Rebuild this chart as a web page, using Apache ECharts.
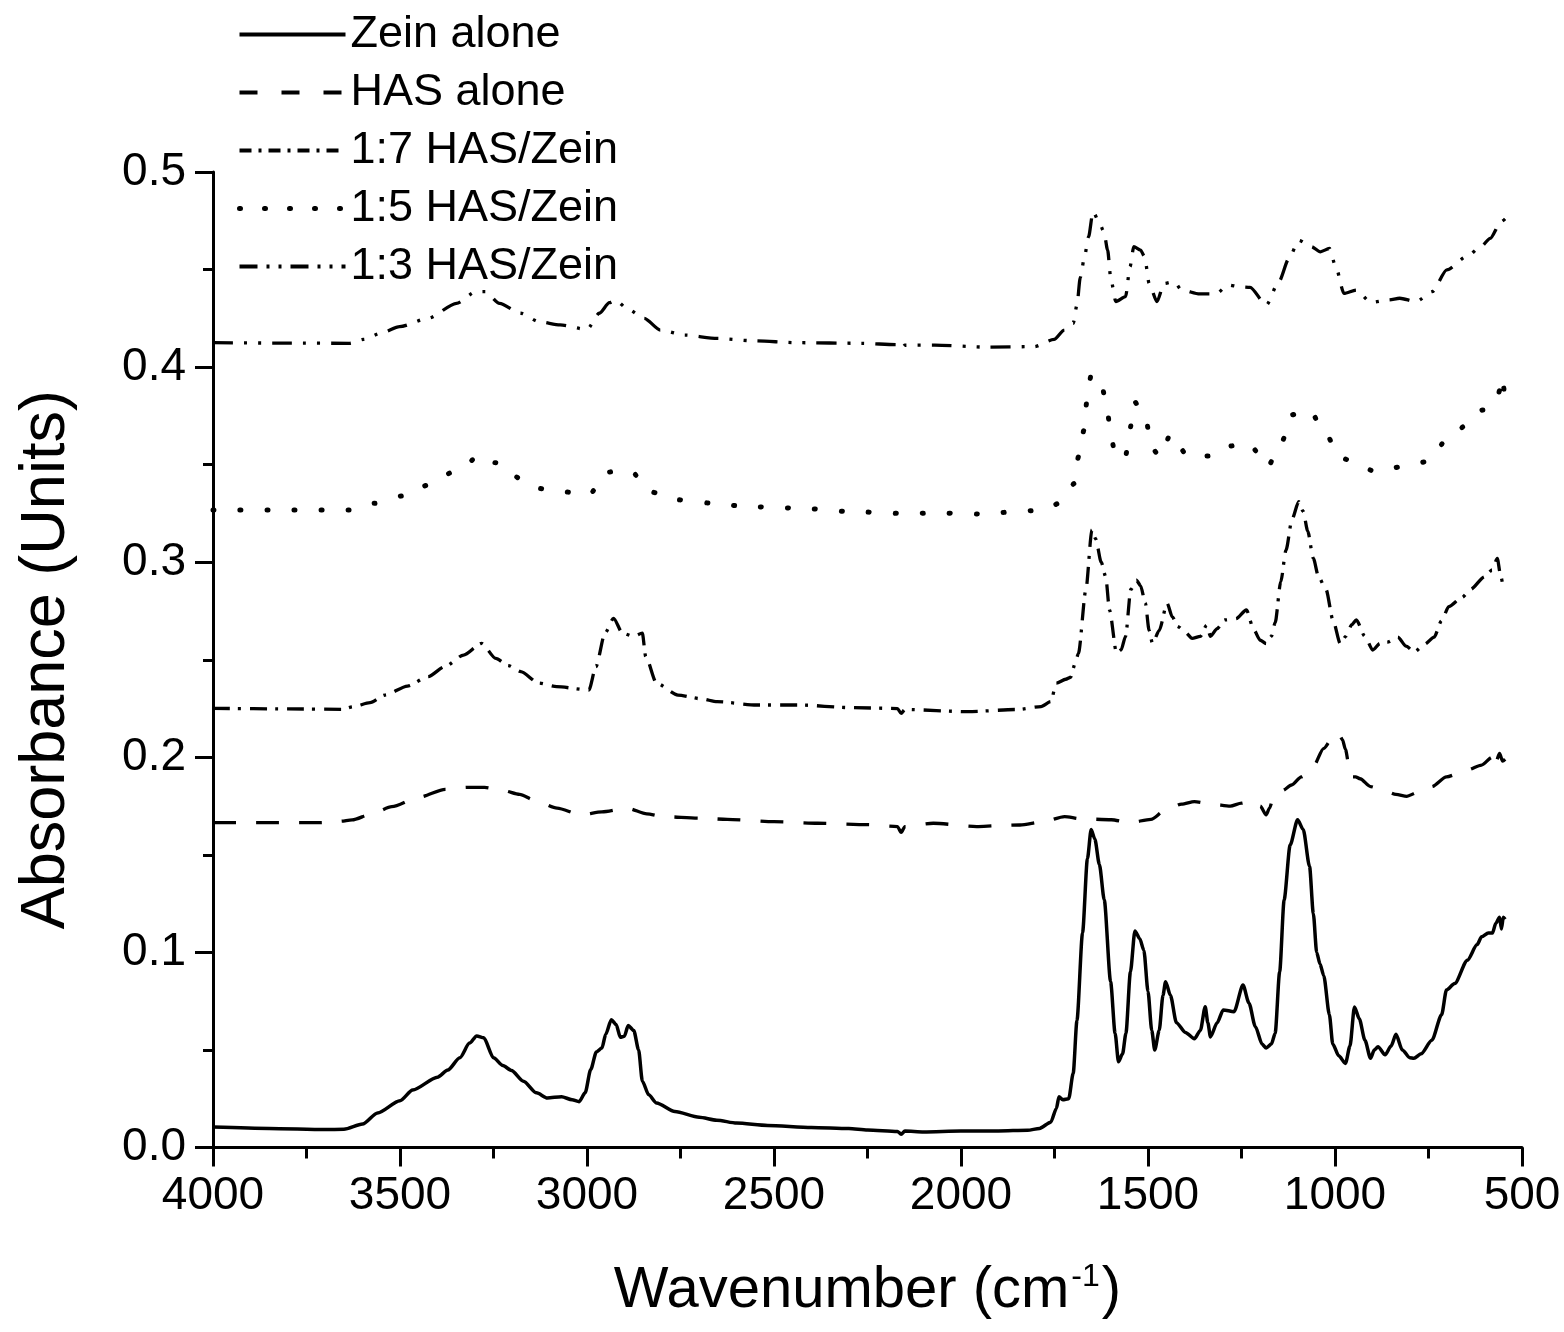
<!DOCTYPE html>
<html>
<head>
<meta charset="utf-8">
<script src="https://cdn.jsdelivr.net/npm/echarts@6/dist/echarts.min.js"></script>
<style>
html,body{margin:0;padding:0;background:#fff;}
#chart{width:1564px;height:1332px;}
</style>
</head>
<body>
<div id="chart"></div>
<script>
// ---- Data: [wavenumber (cm-1), absorbance] ----
const seriesNames = ['Zein alone', 'HAS alone', '1:7 HAS/Zein', '1:5 HAS/Zein', '1:3 HAS/Zein'];
const xTicks = [4000, 3500, 3000, 2500, 2000, 1500, 1000, 500];
const yTicks = [0.0, 0.1, 0.2, 0.3, 0.4, 0.5];

const zeinAlone = [[4000,0.0105],[3850,0.0098],[3700,0.0092],[3650,0.0093],[3600,0.012],[3560,0.0177],[3500,0.024],[3466,0.0295],[3400,0.036],[3372,0.0397],[3340,0.046],[3314,0.0535],[3295,0.0572],[3276,0.0562],[3250,0.046],[3225,0.042],[3202,0.0395],[3170,0.034],[3135,0.028],[3106,0.0254],[3068,0.026],[3040,0.0245],[3021,0.0235],[3005,0.028],[2990,0.040],[2975,0.049],[2960,0.051],[2950,0.058],[2935,0.0655],[2922,0.063],[2911,0.0565],[2900,0.057],[2890,0.0625],[2875,0.060],[2862,0.050],[2852,0.034],[2835,0.027],[2814,0.0228],[2765,0.0184],[2700,0.0155],[2653,0.014],[2600,0.0125],[2517,0.0113],[2400,0.0103],[2300,0.0097],[2250,0.009],[2170,0.0082],[2160,0.0068],[2150,0.0085],[2100,0.008],[2000,0.0085],[1900,0.0085],[1822,0.0088],[1790,0.0098],[1760,0.013],[1745,0.020],[1738,0.026],[1728,0.0245],[1712,0.025],[1700,0.038],[1690,0.065],[1675,0.11],[1662,0.148],[1652,0.163],[1642,0.158],[1630,0.145],[1617,0.127],[1600,0.085],[1588,0.0586],[1579,0.044],[1568,0.048],[1559,0.0586],[1547,0.09],[1535,0.111],[1522,0.107],[1511,0.101],[1500,0.08],[1490,0.06],[1482,0.05],[1470,0.06],[1460,0.078],[1453,0.085],[1440,0.078],[1424,0.064],[1400,0.059],[1376,0.0557],[1360,0.06],[1347,0.0722],[1340,0.064],[1333,0.0567],[1315,0.064],[1299,0.0705],[1270,0.0696],[1246,0.0833],[1230,0.074],[1213,0.062],[1195,0.053],[1184,0.051],[1170,0.053],[1160,0.0586],[1148,0.09],[1136,0.127],[1120,0.155],[1100,0.168],[1085,0.163],[1068,0.144],[1058,0.12],[1049,0.1],[1040,0.094],[1030,0.088],[1015,0.068],[1006,0.053],[990,0.047],[972,0.0431],[960,0.052],[948,0.072],[935,0.066],[920,0.055],[905,0.0457],[895,0.05],[885,0.0517],[866,0.0475],[850,0.052],[837,0.058],[820,0.05],[800,0.046],[789,0.0457],[770,0.048],[741,0.055],[715,0.068],[702,0.0807],[680,0.084],[646,0.096],[620,0.104],[608,0.108],[590,0.11],[579,0.1099],[570,0.115],[560,0.118],[555,0.112],[550,0.118],[545,0.117]];

const hasAlone = [[4000,0.1665],[3850,0.1665],[3713,0.1665],[3660,0.1672],[3628,0.1679],[3575,0.171],[3522,0.1747],[3450,0.1795],[3379,0.1836],[3320,0.1846],[3274,0.1846],[3226,0.183],[3180,0.181],[3140,0.178],[3080,0.174],[3016,0.1705],[2960,0.172],[2892,0.1739],[2840,0.171],[2797,0.1696],[2700,0.1688],[2625,0.1682],[2500,0.167],[2383,0.1662],[2250,0.1655],[2170,0.1645],[2160,0.1615],[2150,0.1645],[2074,0.1662],[1958,0.1645],[1900,0.165],[1842,0.1653],[1780,0.167],[1723,0.1696],[1680,0.1685],[1598,0.168],[1550,0.1665],[1492,0.1682],[1453,0.173],[1410,0.176],[1376,0.1773],[1330,0.176],[1280,0.175],[1250,0.1765],[1222,0.178],[1200,0.175],[1184,0.1705],[1175,0.174],[1164,0.180],[1140,0.183],[1116,0.1858],[1090,0.19],[1059,0.195],[1030,0.2046],[1010,0.209],[991,0.2125],[980,0.209],[972,0.204],[962,0.195],[957,0.190],[945,0.19],[933,0.189],[905,0.185],[870,0.183],[837,0.181],[808,0.180],[780,0.182],[741,0.185],[702,0.190],[646,0.1935],[608,0.196],[580,0.2],[575,0.195],[569,0.198],[560,0.202],[552,0.198],[545,0.199]];

const ratio17 = [[4000,0.2251],[3800,0.2248],[3654,0.2246],[3626,0.2259],[3580,0.228],[3540,0.2319],[3480,0.2365],[3425,0.2413],[3380,0.2465],[3330,0.2524],[3282,0.2584],[3244,0.2507],[3210,0.247],[3177,0.2439],[3129,0.238],[3081,0.2362],[2995,0.2345],[2976,0.2465],[2952,0.2636],[2929,0.2712],[2905,0.2636],[2876,0.262],[2852,0.2636],[2843,0.2516],[2814,0.238],[2757,0.2319],[2695,0.23],[2652,0.2285],[2547,0.2268],[2430,0.2268],[2300,0.2255],[2170,0.225],[2160,0.2225],[2150,0.2245],[1982,0.2234],[1850,0.2245],[1786,0.226],[1760,0.2285],[1745,0.238],[1720,0.240],[1707,0.241],[1695,0.248],[1686,0.2533],[1666,0.286],[1650,0.3165],[1640,0.312],[1625,0.300],[1613,0.2925],[1603,0.2755],[1584,0.2533],[1572,0.255],[1560,0.262],[1546,0.286],[1531,0.2908],[1520,0.288],[1507,0.279],[1497,0.265],[1488,0.2583],[1470,0.265],[1449,0.279],[1435,0.272],[1420,0.267],[1400,0.264],[1382,0.261],[1360,0.262],[1343,0.2678],[1333,0.262],[1315,0.266],[1295,0.2704],[1265,0.271],[1237,0.2755],[1217,0.2653],[1200,0.26],[1184,0.2583],[1170,0.262],[1160,0.269],[1145,0.29],[1131,0.3062],[1115,0.322],[1097,0.331],[1085,0.326],[1073,0.316],[1058,0.302],[1044,0.2925],[1024,0.286],[1005,0.27],[986,0.2583],[971,0.262],[955,0.268],[943,0.2704],[920,0.262],[899,0.255],[880,0.2583],[860,0.259],[832,0.2616],[810,0.257],[788,0.254],[760,0.258],[735,0.2616],[715,0.27],[696,0.2772],[660,0.282],[638,0.286],[600,0.2925],[580,0.296],[566,0.302],[558,0.294],[550,0.288],[545,0.29]];

const ratio15 = [[4000,0.3268],[3800,0.3268],[3635,0.3268],[3568,0.3302],[3492,0.334],[3425,0.3395],[3349,0.347],[3282,0.355],[3245,0.351],[3210,0.3456],[3139,0.338],[3067,0.3362],[2995,0.3345],[2970,0.339],[2948,0.346],[2915,0.347],[2881,0.3464],[2833,0.3362],[2761,0.332],[2661,0.3302],[2575,0.3285],[2430,0.3277],[2300,0.326],[2160,0.325],[2050,0.3252],[1955,0.3247],[1813,0.3264],[1760,0.328],[1742,0.33],[1720,0.334],[1697,0.3404],[1686,0.354],[1671,0.3677],[1664,0.3818],[1652,0.396],[1628,0.394],[1610,0.3805],[1601,0.3669],[1586,0.3532],[1560,0.3544],[1548,0.3686],[1536,0.3823],[1520,0.378],[1505,0.3729],[1492,0.3592],[1468,0.354],[1439,0.3657],[1420,0.36],[1393,0.354],[1337,0.3544],[1295,0.3592],[1231,0.3609],[1200,0.355],[1179,0.3489],[1160,0.355],[1142,0.3618],[1116,0.3755],[1090,0.377],[1065,0.378],[1045,0.372],[1026,0.3664],[988,0.3537],[949,0.3515],[891,0.3463],[822,0.3489],[754,0.3515],[701,0.3626],[648,0.3703],[605,0.378],[566,0.3831],[560,0.388],[552,0.395],[545,0.38]];

const ratio13 = [[4000,0.4125],[3800,0.4123],[3635,0.4122],[3597,0.4142],[3550,0.4175],[3501,0.4207],[3425,0.425],[3349,0.4327],[3296,0.4387],[3272,0.4387],[3234,0.4327],[3177,0.4276],[3129,0.4233],[3072,0.4216],[3000,0.4193],[2967,0.4276],[2940,0.433],[2924,0.4344],[2890,0.4296],[2847,0.425],[2804,0.419],[2738,0.4164],[2652,0.4147],[2556,0.4135],[2436,0.4125],[2267,0.4122],[2170,0.4115],[2160,0.4096],[2150,0.4112],[2070,0.4113],[1928,0.4102],[1804,0.4105],[1751,0.4142],[1724,0.419],[1700,0.4224],[1690,0.4318],[1681,0.446],[1669,0.4574],[1659,0.4667],[1647,0.4797],[1630,0.474],[1618,0.4694],[1608,0.46],[1599,0.4446],[1586,0.4336],[1560,0.4361],[1548,0.4515],[1538,0.4617],[1520,0.46],[1509,0.4566],[1497,0.4429],[1476,0.4336],[1457,0.4429],[1430,0.4438],[1410,0.4395],[1362,0.4375],[1319,0.4375],[1285,0.4421],[1256,0.4412],[1227,0.4409],[1184,0.4318],[1150,0.4438],[1123,0.4557],[1097,0.465],[1063,0.4617],[1039,0.4591],[1015,0.4608],[998,0.4515],[976,0.4378],[943,0.4395],[904,0.4331],[856,0.4344],[827,0.4353],[783,0.4336],[740,0.4387],[701,0.4498],[648,0.4566],[610,0.4617],[585,0.466],[556,0.4745],[545,0.476]];

const seriesData = [zeinAlone, hasAlone, ratio17, ratio15, ratio13];

// ---- Styles ----
const FONT = '"Liberation Sans", Arial, Helvetica, sans-serif';
const lineTypes = ['solid', [23, 20], [17, 8, 3, 9], [1, 26], [20, 11, 3, 11, 3, 11]];
const legendTypes = ['solid', [18, 24], [12, 7, 3, 7], [1, 24], [18, 9, 3, 9, 3, 9]];
const lineCaps = ['butt', 'butt', 'butt', 'round', 'butt'];
const lineWidths = [3.5, 3.3, 3.3, 5, 3.3];

const chart = echarts.init(document.getElementById('chart'), null, {renderer: 'canvas'});

const series = seriesNames.map((name, i) => ({
  name: name,
  type: 'line',
  data: seriesData[i],
  showSymbol: false,
  symbol: 'none',
  smooth: 0.25,
  smoothMonotone: 'x',
  animation: false,
  lineStyle: {color: '#000', width: lineWidths[i], type: lineTypes[i], cap: lineCaps[i], join: 'round'},
  itemStyle: {color: '#000'},
  emphasis: {disabled: true}
}));

const option = {
  backgroundColor: '#fff',
  animation: false,
  textStyle: {fontFamily: FONT, color: '#000'},
  legend: {
    orient: 'vertical',
    left: 232,
    top: 7,
    itemWidth: 106,
    itemHeight: 14,
    itemGap: 13,
    selectedMode: false,
    data: seriesNames.map((n, i) => ({
      name: n,
      lineStyle: {color: '#000', width: i === 3 ? 5 : 4, type: legendTypes[i], cap: lineCaps[i]}
    })),
    itemStyle: {opacity: 0},
    textStyle: {fontFamily: FONT, fontSize: 45, color: '#000'}
  },
  grid: {left: 213, right: 42, top: 172, bottom: 184.5, containLabel: false},
  xAxis: {
    type: 'value',
    inverse: true,
    min: 500,
    max: 4000,
    interval: 500,
    name: 'Wavenumber (cm{sup|-1})',
    nameLocation: 'middle',
    nameGap: 114,
    nameTextStyle: {
      fontFamily: FONT, fontSize: 58, color: '#000',
      rich: {sup: {fontFamily: FONT, fontSize: 32, color: '#000', verticalAlign: 'top', padding: [0, 2, 26, 2]}}
    },
    axisLine: {show: true, onZero: false, lineStyle: {color: '#000', width: 3}},
    axisTick: {show: true, inside: false, length: 19, lineStyle: {color: '#000', width: 3}},
    minorTick: {show: true, splitNumber: 2, length: 11, lineStyle: {color: '#000', width: 3}},
    splitLine: {show: false},
    minorSplitLine: {show: false},
    axisLabel: {margin: 26, fontFamily: FONT, fontSize: 46, color: '#000',
      formatter: v => xTicks.indexOf(v) >= 0 ? String(v) : ''}
  },
  yAxis: {
    type: 'value',
    min: 0,
    max: 0.5,
    interval: 0.1,
    name: 'Absorbance (Units)',
    nameLocation: 'middle',
    nameGap: 135,
    nameTextStyle: {fontFamily: FONT, fontSize: 63, color: '#000'},
    axisLine: {show: true, onZero: false, lineStyle: {color: '#000', width: 3}},
    axisTick: {show: true, inside: false, length: 18, lineStyle: {color: '#000', width: 3}},
    minorTick: {show: true, splitNumber: 2, length: 10, lineStyle: {color: '#000', width: 3}},
    splitLine: {show: false},
    minorSplitLine: {show: false},
    axisLabel: {margin: 27, fontFamily: FONT, fontSize: 46, color: '#000',
      formatter: v => {
        const t = yTicks.find(y => Math.abs(y - v) < 1e-9);
        return t === undefined ? '' : t.toFixed(1);
      }}
  },
  series: series
};

chart.setOption(option);
</script>
</body>
</html>
